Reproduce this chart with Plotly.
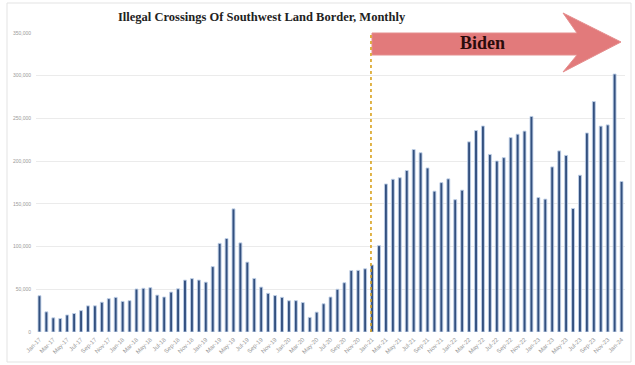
import plotly.graph_objects as go
import pandas as pd

# ---- data ----
months = pd.date_range("2017-01-01", "2024-01-01", freq="MS").strftime("%b-%y").tolist()
crossings = [
    42463, 23589, 16600, 15766, 19940, 21659, 25011, 30567, 30649, 34871, 39016, 40519,   # 2017
    35822, 36695, 50347, 51168, 51862, 43180, 40953, 46719, 50568, 60745, 62469, 60782,   # 2018
    58317, 76545, 103731, 109415, 144116, 104311, 81777, 62707, 52546, 45250, 42643, 40565,  # 2019
    36585, 36687, 34460, 17106, 23237, 33049, 40929, 50014, 57674, 71929, 72113, 73994,   # 2020
    78414, 101099, 173277, 178795, 180597, 189034, 213593, 209840, 192001, 164837, 174845, 179253,  # 2021
    154874, 166010, 222574, 235785, 241136, 207834, 200162, 204087, 227547, 231529, 235173, 252315,  # 2022
    157358, 155556, 193249, 211992, 206690, 144556, 183503, 232972, 269735, 240988, 242418, 301983,  # 2023
    176205,  # 2024
]
tick_labels = months[::2]
y_ticks = [0, 50000, 100000, 150000, 200000, 250000, 300000, 350000]
title_text = "Illegal Crossings Of Southwest Land Border, Monthly"
arrow_label = "Biden"
biden_start = "Jan-21"

# ---- layout constants (pixels) ----
W, H = 635, 365
ML, MR, MT, MB = 36, 10, 33, 33
PW, PH = W - ML - MR, H - MT - MB

def px(x):
    return (x - ML) / PW

def py(y):
    return (H - MB - y) / PH

fig = go.Figure()
fig.add_trace(go.Bar(
    x=months, y=crossings,
    width=0.42,
    marker=dict(color="#33507F", line=dict(color="#BFD0E8", width=0.9)),
    hoverinfo="x+y",
))

bi = months.index(biden_start) - 0.16

# Biden arrow
arrow_pts = [(372, 33), (577, 33), (563, 13), (621, 42), (563, 72), (577, 55), (372, 55)]
path = "M " + " L ".join(f"{px(a):.5f},{py(b):.5f}" for a, b in arrow_pts) + " Z"

shapes = [
    dict(type="rect", xref="paper", yref="paper", x0=px(7), x1=px(631), y0=py(362), y1=py(3),
         line=dict(color="#E3E3E3", width=1), layer="below"),
    dict(type="path", xref="paper", yref="paper", path=path,
         fillcolor="#E27A7B", line=dict(color="#E58E8E", width=1), layer="above"),
    dict(type="line", xref="x", yref="paper", x0=bi, x1=bi, y0=0, y1=1,
         line=dict(color="#D9A21E", width=1.6, dash="dot"), layer="above"),
]

fig.update_layout(
    width=W, height=H,
    margin=dict(l=ML, r=MR, t=MT, b=MB, autoexpand=False),
    paper_bgcolor="white", plot_bgcolor="white",
    showlegend=False,
    bargap=0.5,
    shapes=shapes,
    annotations=[
        dict(text=f"<b>{title_text}</b>", xref="paper", yref="paper", x=px(262), y=py(17),
             xanchor="center", yanchor="middle", showarrow=False,
             font=dict(family="Liberation Serif, DejaVu Serif, serif", size=12.5, color="#222222")),
        dict(text=f"<b>{arrow_label}</b>", xref="paper", yref="paper", x=px(482), y=py(43),
             xanchor="center", yanchor="middle", showarrow=False,
             font=dict(family="Liberation Serif, DejaVu Serif, serif", size=18, color="#2A0B0B")),
    ],
    xaxis=dict(
        type="category", range=[-0.5, len(months) - 0.5], automargin=False,
        tickmode="array", tickvals=tick_labels, ticktext=tick_labels,
        tickangle=-45, tickfont=dict(family="Liberation Sans, Arial", size=6, color="#999999"),
        showgrid=False, showline=False, ticks="", ticklabelstandoff=2,
    ),
    yaxis=dict(
        range=[0, 350000], tickvals=y_ticks, tickformat=",", automargin=False,
        tickfont=dict(family="Liberation Sans, Arial", size=5, color="#9A9A9A"),
        showgrid=True, gridcolor="#EBEBEB", gridwidth=1, zeroline=False, showline=False,
        ticks="", ticklabelstandoff=4,
    ),
)

fig.write_html(
    "out.html",
    config={"displayModeBar": False},
    post_script="document.body.style.margin='0';document.body.style.overflow='hidden';",
)
